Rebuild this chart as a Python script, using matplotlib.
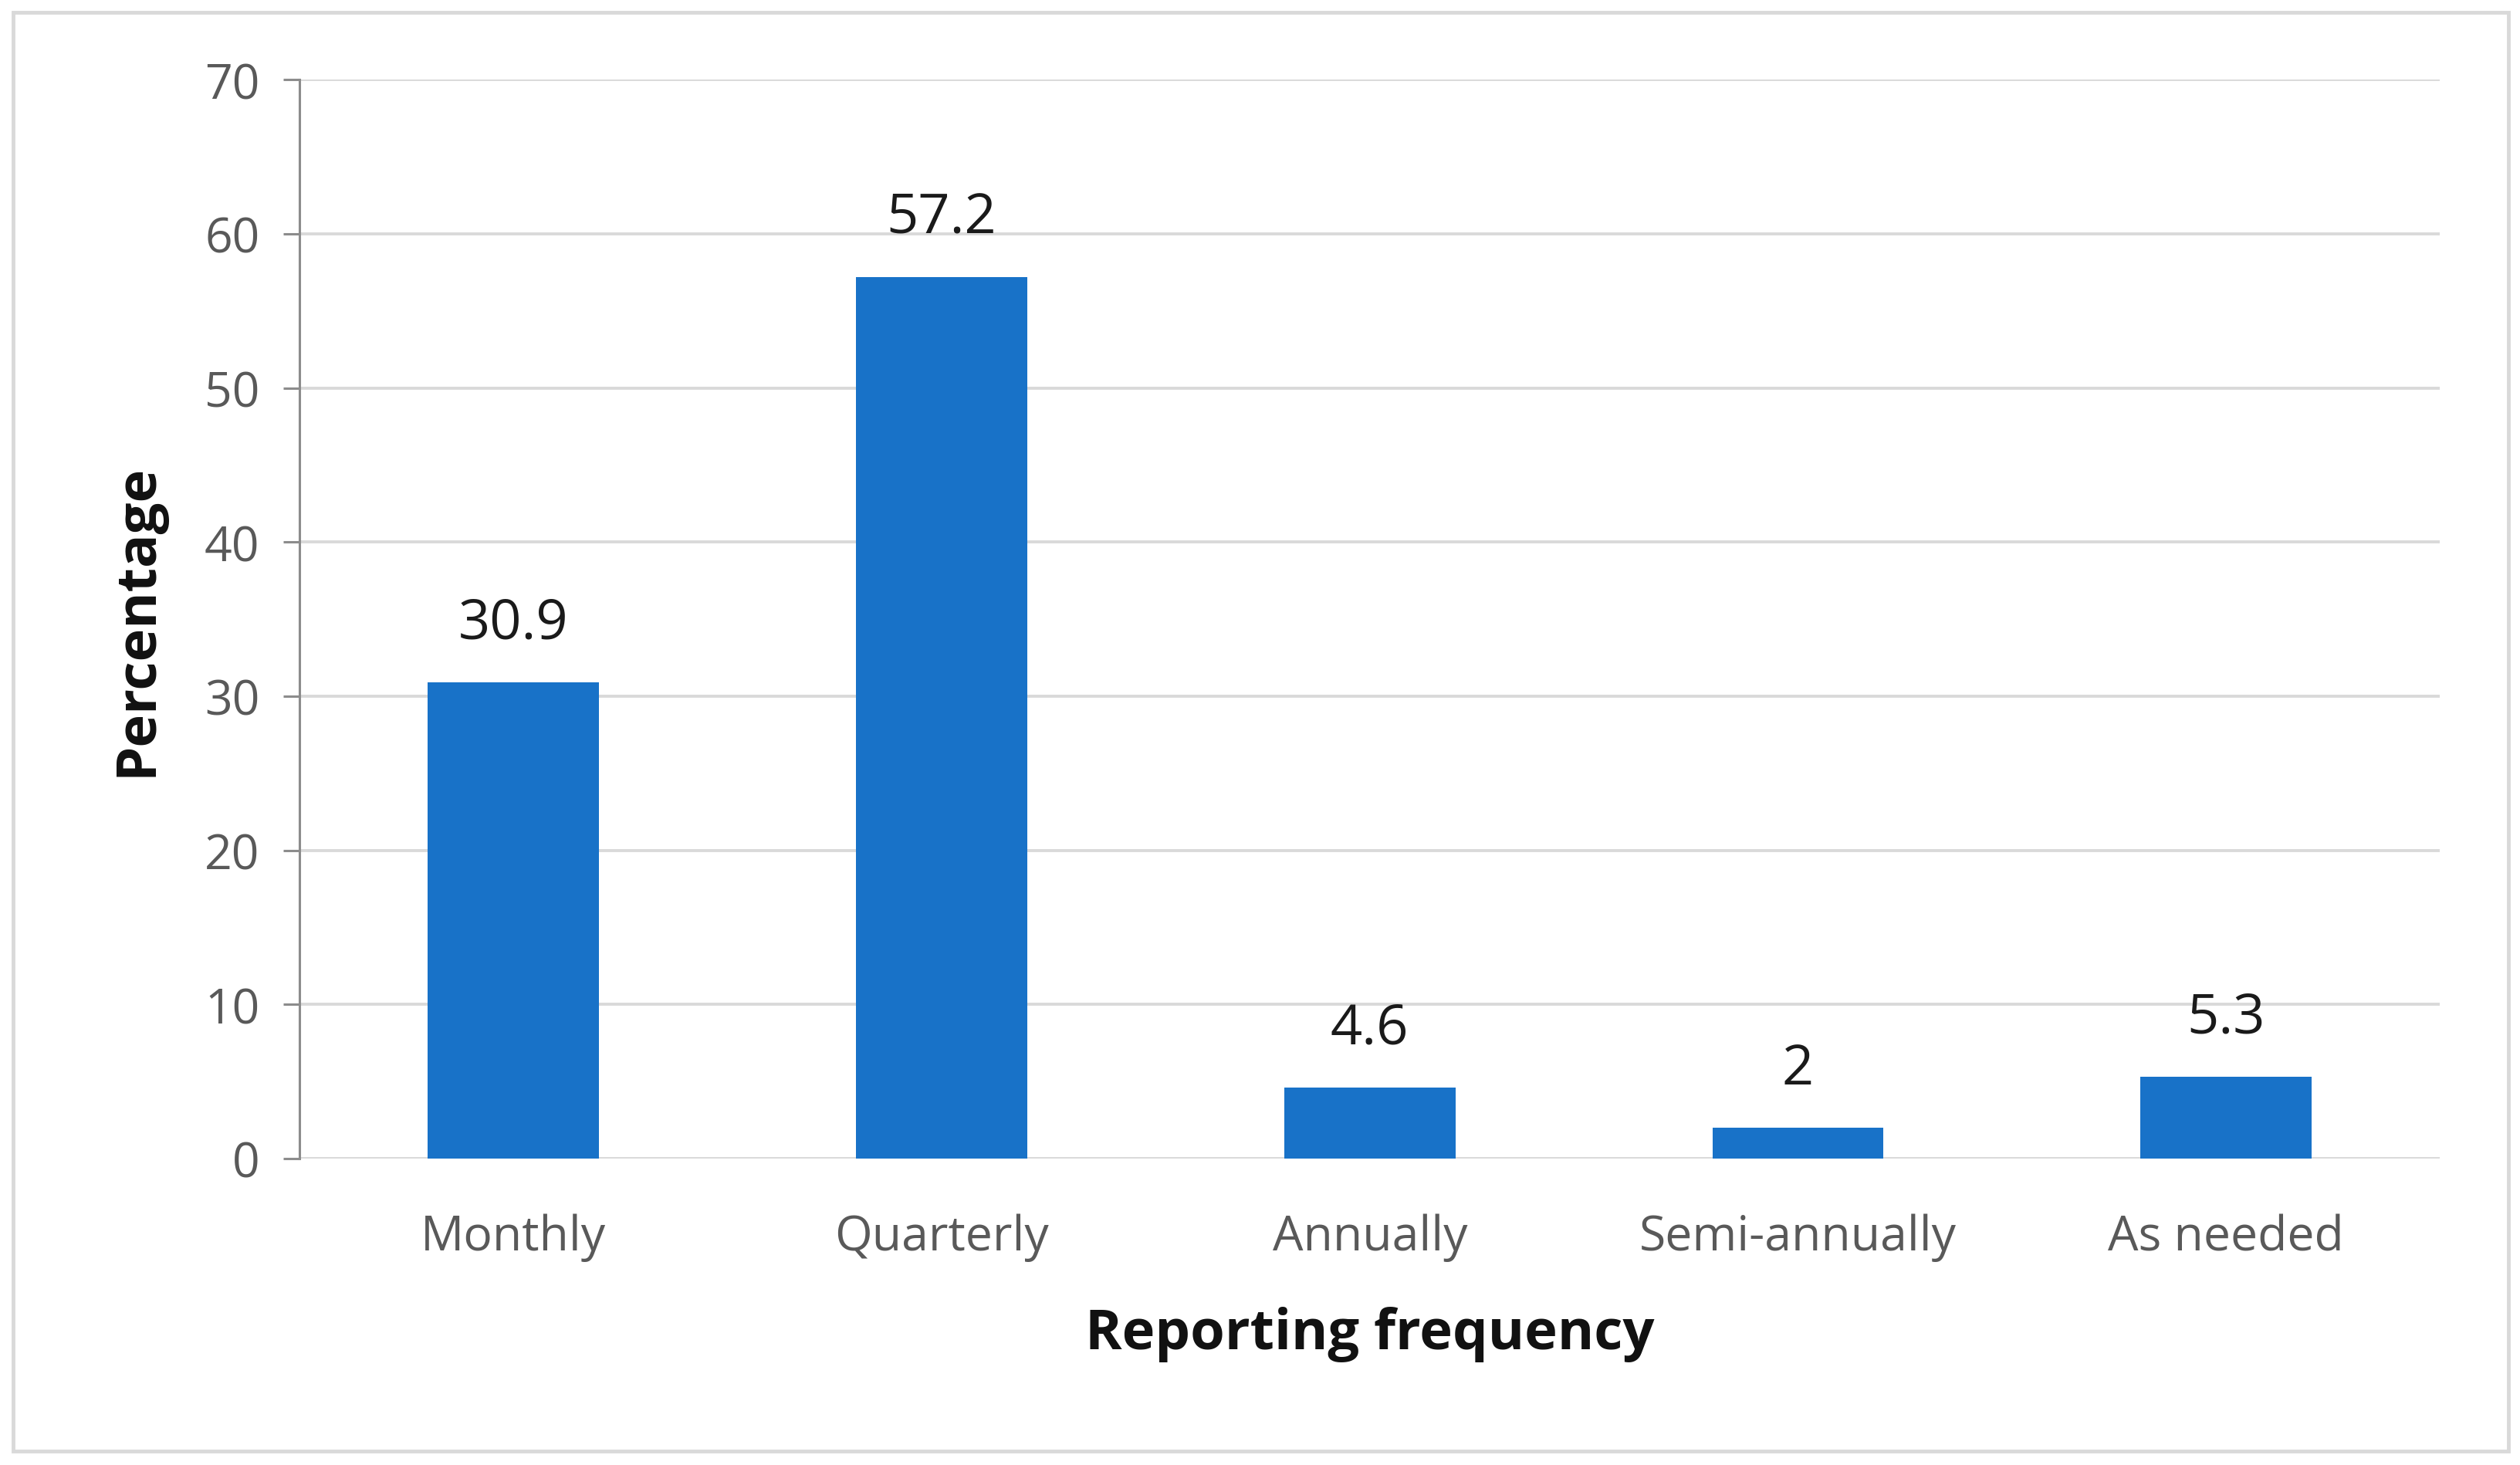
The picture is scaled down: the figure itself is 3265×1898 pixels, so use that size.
import matplotlib
matplotlib.use("Agg")
import matplotlib.pyplot as plt
from matplotlib.patches import Rectangle

# Data

categories = ["Monthly", "Quarterly", "Annually", "Semi-annually", "As needed"]
percentages = [30.9, 57.2, 4.6, 2, 5.3]
value_labels = ["30.9", "57.2", "4.6", "2", "5.3"]
y_ticks = [0, 10, 20, 30, 40, 50, 60, 70]

plt.rcParams['font.family'] = ['Open Sans', 'DejaVu Sans']

fig = plt.figure(figsize=(32.66, 18.99), dpi=100)
ax = fig.add_axes([0.1188, 0.209, 0.968 - 0.1188, 0.945 - 0.209])

x = range(len(categories))
ax.bar(x, percentages, width=0.4, color='#1872C8', zorder=3)

# Value labels above bars
for i, (v, lab) in enumerate(zip(percentages, value_labels)):
    ax.annotate(lab, (i, v), xytext=(0, 55), textcoords='offset points',
                ha='center', va='center', fontsize=52, color='#1a1a1a')

ax.set_xlim(-0.5, len(categories) - 0.5)
ax.set_ylim(0, 70)
ax.set_yticks(y_ticks)
ax.set_xticks(list(x))
ax.set_xticklabels(categories)

ax.grid(axis='y', color='#d9d9d9', linewidth=2.8, zorder=0)
ax.set_axisbelow(True)

for s in ['top', 'right', 'bottom']:
    ax.spines[s].set_visible(False)
ax.spines['left'].set_color('#8c8c8c')
ax.spines['left'].set_linewidth(2.2)

ax.tick_params(axis='y', length=15, width=2.2, color='#8c8c8c', pad=22,
               labelsize=45, labelcolor='#595959')
ax.tick_params(axis='x', length=0, pad=51, labelsize=45, labelcolor='#595959')

ax.set_xlabel("Reporting frequency", fontsize=52, fontweight='bold', color='#111111')
ax.xaxis.label.set_va('center')
ax.xaxis.set_label_coords(0.5, -0.162)
ax.set_ylabel("Percentage", fontsize=52, fontweight='bold', color='#111111')
ax.yaxis.label.set_va('center')
ax.yaxis.set_label_coords(-0.076, 0.5)

# Outer border of the chart
fig.patches.append(Rectangle((17 / 3266, 1 - 1881 / 1899), (3250 - 17) / 3266, (1881 - 17) / 1899,
                             transform=fig.transFigure, fill=False,
                             edgecolor='#d9d9d9', linewidth=3.5))

fig.savefig("out.png", dpi=100, facecolor='white')
